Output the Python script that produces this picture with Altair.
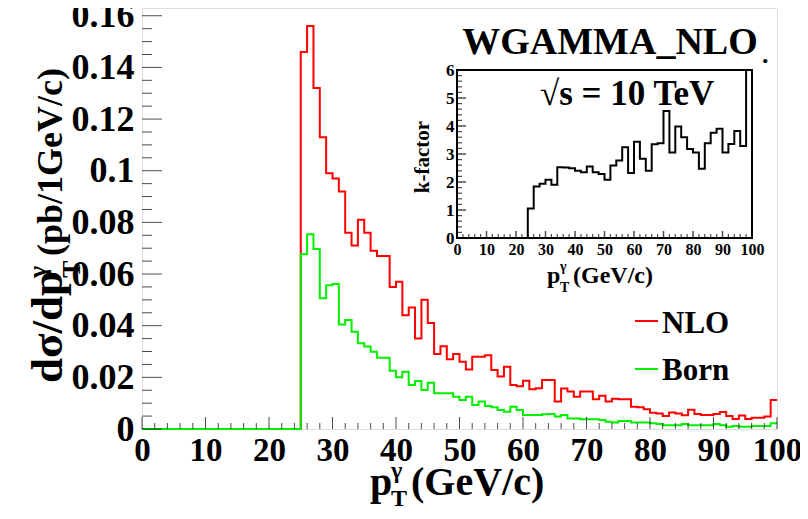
import altair as alt
import pandas as pd

FONT = "Liberation Serif"

# ---------------- data ----------------
nlo_bin_low = list(range(25, 100))
nlo = [0.146, 0.156, 0.132, 0.113, 0.099, 0.097, 0.092, 0.076, 0.071, 0.081,
       0.076, 0.069, 0.067, 0.067, 0.055, 0.057, 0.044, 0.047, 0.035, 0.050,
       0.041, 0.029, 0.032, 0.027, 0.029, 0.026, 0.023, 0.028, 0.028, 0.0286,
       0.0228, 0.0203, 0.0241, 0.0170, 0.0166, 0.0187, 0.0154, 0.0158, 0.0190, 0.0190,
       0.0106, 0.0157, 0.0145, 0.0125, 0.0145, 0.0145, 0.0115, 0.0129, 0.0106, 0.0117,
       0.0115, 0.0115, 0.0086, 0.0084, 0.0076, 0.0063, 0.0060, 0.0050, 0.0064, 0.0060,
       0.0053, 0.0075, 0.0058, 0.0054, 0.0054, 0.0058, 0.0066, 0.0050, 0.0039, 0.0052,
       0.0039, 0.0044, 0.0044, 0.0048, 0.0112]
born = [0.0677, 0.0754, 0.0697, 0.0506, 0.0557, 0.0561, 0.0405, 0.0422, 0.0377, 0.0332,
        0.0319, 0.0299, 0.0276, 0.0276, 0.0226, 0.0200, 0.0222, 0.0170, 0.0186, 0.0151,
        0.0179, 0.0138, 0.0138, 0.0138, 0.0125, 0.0112, 0.0125, 0.0093, 0.0106, 0.0089,
        0.0084, 0.0074, 0.0067, 0.0086, 0.0074, 0.0054, 0.0054, 0.0054, 0.0057, 0.0058,
        0.0048, 0.0054, 0.0041, 0.0041, 0.0038, 0.0038, 0.0038, 0.0035, 0.0028, 0.0025,
        0.0031, 0.0031, 0.0025, 0.0025, 0.0025, 0.0022, 0.0019, 0.0015, 0.0015, 0.0015,
        0.0019, 0.0015, 0.0015, 0.0015, 0.0015, 0.0019, 0.0015, 0.0009, 0.0012, 0.0009,
        0.0009, 0.0012, 0.0012, 0.0012, 0.0022]
k_bin_low = list(range(24, 100, 2))
kfactor = [1.05, 1.84, 1.94, 2.08, 1.90, 2.53, 2.52, 2.49, 2.40, 2.35,
           2.55, 2.35, 2.29, 2.08, 2.59, 2.77, 3.24, 2.32, 3.44, 2.83,
           2.40, 3.35, 3.38, 4.54, 3.05, 3.98, 3.60, 3.18, 3.05, 2.47,
           3.38, 3.76, 3.90, 3.05, 3.36, 3.82, 3.29, 6.0]

main_x_major = list(range(0, 101, 10))
main_x_minor = [v for v in range(2, 100, 2) if v % 10]
main_y_major = [round(0.02 * i, 2) for i in range(9)]
main_y_minor = [round(0.005 * i, 3) for i in range(1, 33) if i % 4]
in_x_major = list(range(0, 101, 10))
in_x_minor = [v for v in range(2, 100, 2) if v % 10]
in_y_major = list(range(0, 7))
in_y_minor = [round(0.2 * i, 1) for i in range(1, 30) if i % 5]

# ---------------- layout ----------------
W, H = 635, 421
MAIN_YMAX = 0.163
IN_XR = [315, 610]
IN_YR = [230, 62]
RED = "#ff0000"
GREEN = "#00f000"


def step_frame(lows, vals):
    return pd.DataFrame({"x": [0] + lows + [100], "y": [0.0] + vals + [vals[-1]]})


def axis(**kw):
    base = dict(labelFont=FONT, labelFontWeight="bold", labelColor="black",
                labelOverlap=False, ticks=False, domain=False, grid=False)
    base.update(kw)
    return alt.Axis(**base)


mx = alt.X("x:Q", title=None, scale=alt.Scale(domain=[0, 100], nice=False, zero=False),
           axis=axis(values=main_x_major, format="d", labelFontSize=33, labelPadding=5,
                     labelFlush=False))
my = alt.Y("y:Q", title=None, scale=alt.Scale(domain=[0, MAIN_YMAX], nice=False, zero=False),
           axis=axis(values=main_y_major, format="~g", labelFontSize=36, labelPadding=8))

ix = alt.X("x:Q", title=None,
           scale=alt.Scale(domain=[0, 100], range=IN_XR, nice=False, zero=False),
           axis=axis(orient="bottom", offset=IN_YR[0] - H, values=in_x_major, format="d",
                     labelFontSize=16, labelPadding=3, labelFlush=False))
iy = alt.Y("y:Q", title=None,
           scale=alt.Scale(domain=[0, 6], range=IN_YR, nice=False, zero=False),
           axis=axis(orient="left", offset=-IN_XR[0], values=in_y_major, format="d",
                     labelFontSize=17, labelPadding=3))


def ticks(xvals, yvals, xe, ye, orient, size, thick=1.0):
    df = pd.DataFrame({"x": xvals, "y": yvals})
    kw = dict(orient=orient, size=size, thickness=thick, color="black")
    if orient == "vertical":
        kw["yOffset"] = -size / 2
    else:
        kw["xOffset"] = size / 2
    return alt.Chart(df).mark_tick(**kw).encode(x=xe, y=ye)


def label(text, x, y, size, align="left", baseline="alphabetic", angle=0, color="black"):
    return alt.Chart(pd.DataFrame({"t": [text]})).mark_text(
        align=align, baseline=baseline, angle=angle, font=FONT, fontSize=size,
        fontWeight="bold", color=color).encode(x=alt.value(x), y=alt.value(y), text="t:N")


def sample(color, x1, x2, y):
    return alt.Chart(pd.DataFrame({"a": [0]})).mark_rule(color=color, strokeWidth=2).encode(
        x=alt.value(x1), x2=alt.value(x2), y=alt.value(y))


red = alt.Chart(step_frame(nlo_bin_low, nlo)).mark_line(
    interpolate="step-after", color=RED, strokeWidth=2).encode(x=mx, y=my)
green = alt.Chart(step_frame(nlo_bin_low, born)).mark_line(
    interpolate="step-after", color=GREEN, strokeWidth=2).encode(x=mx, y=my)

main = alt.layer(
    red, green,
    ticks(main_x_major, [0] * len(main_x_major), mx, my, "vertical", 12),
    ticks(main_x_minor, [0] * len(main_x_minor), mx, my, "vertical", 6),
    ticks([0] * len(main_y_major), main_y_major, mx, my, "horizontal", 20),
    ticks([0] * len(main_y_minor), main_y_minor, mx, my, "horizontal", 10),
    # y title
    label("dσ/dp", -80, 375, 45, align="left", angle=270),
    label("γ", -96, 270, 26, align="left", angle=270),
    label("T", -62, 270, 26, align="left", angle=270),
    label("(pb/1GeV/c)", -80, 248, 36, align="left", angle=270),
    # x title
    label("p", 228, 487, 40),
    label("γ", 249, 470, 24),
    label("T", 249, 498, 24),
    label("(GeV/c)", 269, 487, 40),
    # texts
    label("WGAMMA_NLO", 468, 46, 38, align="center"),
    label(".", 620, 55, 26),
    label("√s = 10 TeV", 398, 97, 35),
    label("k-factor", 281, 149, 21, align="center", baseline="middle", angle=270),
    label("p", 405, 275, 24),
    label("γ", 418, 263, 14),
    label("T", 418, 284, 14),
    label("(GeV/c)", 431, 275, 24),
    # legend
    sample(RED, 493, 516, 313),
    sample(GREEN, 493, 516, 361),
    label("NLO", 520, 325, 31),
    label("Born", 520, 372, 31),
)

kline = alt.Chart(step_frame(k_bin_low, kfactor)).mark_line(
    interpolate="step-after", color="black", strokeWidth=2).encode(x=ix, y=iy)
frame = alt.Chart(pd.DataFrame({"x": [0], "x2": [100], "y": [0], "y2": [6]})).mark_rect(
    fillOpacity=0, stroke="black", strokeWidth=2).encode(x=ix, x2="x2:Q", y=iy, y2="y2:Q")

inset = alt.layer(
    kline, frame,
    ticks(in_x_major, [0] * len(in_x_major), ix, iy, "vertical", 7, 1.5),
    ticks(in_x_minor, [0] * len(in_x_minor), ix, iy, "vertical", 4, 1.2),
    ticks([0] * len(in_y_major), in_y_major, ix, iy, "horizontal", 9, 1.5),
    ticks([0] * len(in_y_minor), in_y_minor, ix, iy, "horizontal", 5, 1.2),
)

chart = alt.layer(main, inset).resolve_scale(x="independent", y="independent").properties(
    width=W, height=H,
    padding={"left": 134, "top": 0, "right": 23, "bottom": 82},
    autosize=alt.AutoSizeParams(type="none"),
).configure_view(stroke="black", strokeWidth=1.2).configure(background="white")

chart.save("out.html", embed_options={"renderer": "svg", "actions": False})
